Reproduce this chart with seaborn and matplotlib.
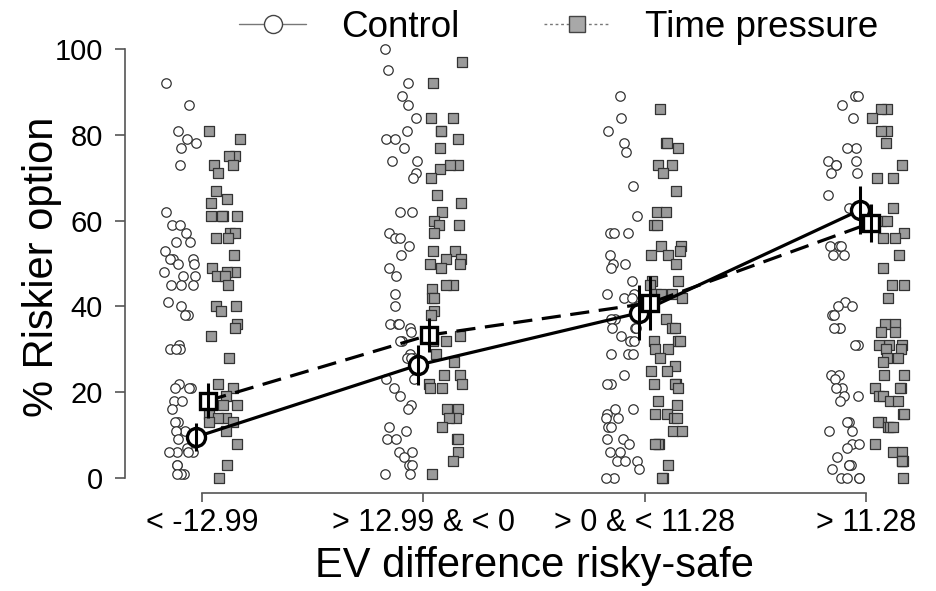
import numpy as np
import pandas as pd
import matplotlib
matplotlib.use('Agg')
import matplotlib.pyplot as plt
from matplotlib.lines import Line2D
import seaborn as sns

# ---- data ----
categories = ['< -12.99', '> 12.99 & < 0', '> 0 & < 11.28', '> 11.28']

c1_ctrl = [92, 87, 81, 79, 78, 77, 73, 62, 59, 59, 57, 55, 55, 53, 51, 51, 51, 50, 50, 48,
           47, 47, 45, 45, 45, 41, 40, 38, 38, 31, 30, 30, 30, 22, 21, 21, 21, 18, 18, 16,
           13, 13, 11, 11, 9, 7, 6, 6, 6, 6, 3, 3, 1, 1, 1]
c1_tp = [81, 79, 75, 75, 73, 73, 71, 67, 65, 64, 61, 61, 61, 61, 57, 57, 56, 56, 52, 49,
         48, 48, 47, 47, 45, 40, 40, 39, 36, 35, 33, 28, 22, 21, 19, 17, 17, 15, 14, 14,
         13, 13, 11, 8, 3, 0]
c2_ctrl = [100, 95, 92, 89, 87, 84, 81, 79, 79, 77, 74, 74, 71, 70, 62, 62, 57, 56, 56, 54,
           52, 49, 47, 43, 40, 36, 36, 36, 35, 34, 32, 32, 29, 28, 28, 28, 25, 23, 23, 21,
           19, 17, 16, 12, 11, 9, 9, 6, 6, 5, 3, 3, 1, 1]
c2_tp = [97, 92, 84, 84, 81, 81, 79, 77, 73, 73, 72, 70, 66, 64, 62, 60, 59, 59, 57, 53,
         53, 51, 51, 50, 50, 49, 45, 45, 44, 42, 42, 39, 38, 33, 33, 33, 32, 32, 29, 27,
         24, 24, 22, 22, 21, 21, 16, 16, 14, 14, 12, 9, 9, 6, 4, 1]
c3_ctrl = [89, 84, 81, 78, 76, 68, 61, 57, 57, 57, 52, 50, 50, 49, 46, 43, 43, 42, 42, 40,
           37, 37, 35, 35, 35, 33, 32, 32, 29, 29, 29, 24, 22, 22, 16, 16, 15, 14, 14, 12,
           12, 9, 9, 8, 6, 6, 4, 4, 4, 2, 0, 0]
c3_tp = [86, 78, 78, 77, 73, 73, 71, 67, 62, 62, 59, 59, 54, 54, 53, 52, 52, 50, 46, 46,
         45, 43, 43, 43, 42, 37, 35, 35, 32, 32, 32, 30, 30, 28, 26, 25, 25, 22, 22, 22,
         21, 18, 17, 15, 15, 14, 14, 11, 11, 8, 8, 8, 3, 0, 0]
c4_ctrl = [89, 89, 87, 84, 77, 77, 74, 74, 73, 73, 71, 71, 66, 63, 54, 54, 54, 52, 52, 41,
           40, 40, 38, 38, 35, 35, 35, 31, 31, 24, 24, 23, 21, 21, 19, 19, 18, 13, 13, 11,
           11, 8, 8, 7, 5, 3, 3, 3, 2, 0, 0, 0, 0]
c4_tp = [86, 86, 84, 81, 81, 78, 73, 70, 70, 63, 60, 60, 57, 56, 56, 52, 49, 45, 45, 42,
         36, 36, 34, 34, 31, 31, 31, 30, 30, 28, 28, 27, 24, 24, 21, 21, 21, 19, 19, 18,
         18, 15, 15, 13, 13, 12, 12, 12, 8, 6, 6, 4, 4, 4, 0]

ctrl_mean = [9.6, 26.3, 38.5, 62.5]
ctrl_err = [3.3, 4.7, 6.4, 5.6]
tp_mean = [18.0, 33.3, 40.8, 59.5]
tp_err = [4.1, 4.0, 6.4, 4.4]

# ---- build long tables ----
ctrl_lists = [c1_ctrl, c2_ctrl, c3_ctrl, c4_ctrl]
tp_lists = [c1_tp, c2_tp, c3_tp, c4_tp]

def to_long(lists, shift):
    rows = []
    for i, vals in enumerate(lists):
        for v in vals:
            rows.append({'pos': i + shift, 'value': v})
    return pd.DataFrame(rows)

df_ctrl = to_long(ctrl_lists, -0.1)
df_tp = to_long(tp_lists, 0.1)

idx = np.arange(len(categories))
means_ctrl = pd.DataFrame({'pos': idx - 0.025, 'mean': ctrl_mean, 'err': ctrl_err})
means_tp = pd.DataFrame({'pos': idx + 0.025, 'mean': tp_mean, 'err': tp_err})

# ---- style ----
sns.set_style('white')
plt.rcParams['font.family'] = ['Liberation Sans', 'DejaVu Sans']
plt.rcParams['text.color'] = 'black'
plt.rcParams['axes.labelcolor'] = 'black'
spine_col = '#555555'

fig = plt.figure(figsize=(9.36, 5.91), dpi=100)
ax = fig.add_axes([0.1335, 0.1658, 0.8507, 0.7658])

np.random.seed(7)
sns.stripplot(data=df_ctrl, x='pos', y='value', native_scale=True, orient='x',
              jitter=0.075, marker='o', size=6.8, color='white',
              edgecolor='#333333', linewidth=0.9, ax=ax, zorder=1)
sns.stripplot(data=df_tp, x='pos', y='value', native_scale=True, orient='x',
              jitter=0.075, marker='s', size=6.8, color='#9a9a9a',
              edgecolor='#333333', linewidth=0.9, ax=ax, zorder=1)

# mean lines
sns.lineplot(data=means_ctrl, x='pos', y='mean', color='black', lw=2.3,
             marker='o', markersize=13, markerfacecolor='white',
             markeredgecolor='black', markeredgewidth=2.4, ax=ax, zorder=3)
sns.lineplot(data=means_tp, x='pos', y='mean', color='black', lw=2.3,
             linestyle=(0, (6, 3)), marker='s', markersize=12,
             markerfacecolor='white', markeredgecolor='black',
             markeredgewidth=2.4, ax=ax, zorder=3)
ax.errorbar(means_ctrl['pos'], means_ctrl['mean'], yerr=means_ctrl['err'],
            fmt='none', ecolor='black', elinewidth=2.2, capsize=0, zorder=4)
ax.errorbar(means_tp['pos'], means_tp['mean'], yerr=means_tp['err'],
            fmt='none', ecolor='black', elinewidth=2.2, capsize=0, zorder=4)

# axes
ax.set_xlim(-0.348, 3.25)
ax.set_ylim(-3.5, 102)
ax.set_xticks(idx)
ax.set_xticklabels(categories)
ax.set_yticks([0, 20, 40, 60, 80, 100])
for s in ['top', 'right']:
    ax.spines[s].set_visible(False)
ax.spines['left'].set_bounds(0, 100)
ax.spines['bottom'].set_bounds(0, 3)
for s in ['left', 'bottom']:
    ax.spines[s].set_color(spine_col)
    ax.spines[s].set_linewidth(1.2)
ax.tick_params(axis='x', length=6.5, width=1.2, color=spine_col, labelcolor='black',
               labelsize=22, pad=4, direction='out', bottom=True)
ax.tick_params(axis='y', length=7, width=1.2, color=spine_col, labelcolor='black',
               labelsize=21, pad=9, direction='out', left=True)
ax.set_xlabel('EV difference risky-safe', fontsize=30)
ax.set_ylabel('% Riskier option', fontsize=30)
ax.xaxis.set_label_coords(0.514, -0.118)
ax.yaxis.set_label_coords(-0.079, 0.5)
ax.grid(False)

# legend
handles = [
    Line2D([0], [0], color='#777777', lw=1, marker='o', markersize=13,
           markerfacecolor='white', markeredgecolor='#444444', markeredgewidth=1),
    Line2D([0], [0], color='#777777', lw=1, linestyle=(0, (2, 2)), marker='s',
           markersize=12, markerfacecolor='#a8a8a8', markeredgecolor='#444444',
           markeredgewidth=1),
]
fig.legend(handles, ['Control', 'Time pressure'], loc='center', ncol=2,
           bbox_to_anchor=(0.597, 0.954), frameon=False, fontsize=26.5,
           handlelength=1.8, handletextpad=0.95, columnspacing=2.3)

fig.savefig('out.png', dpi=100)
